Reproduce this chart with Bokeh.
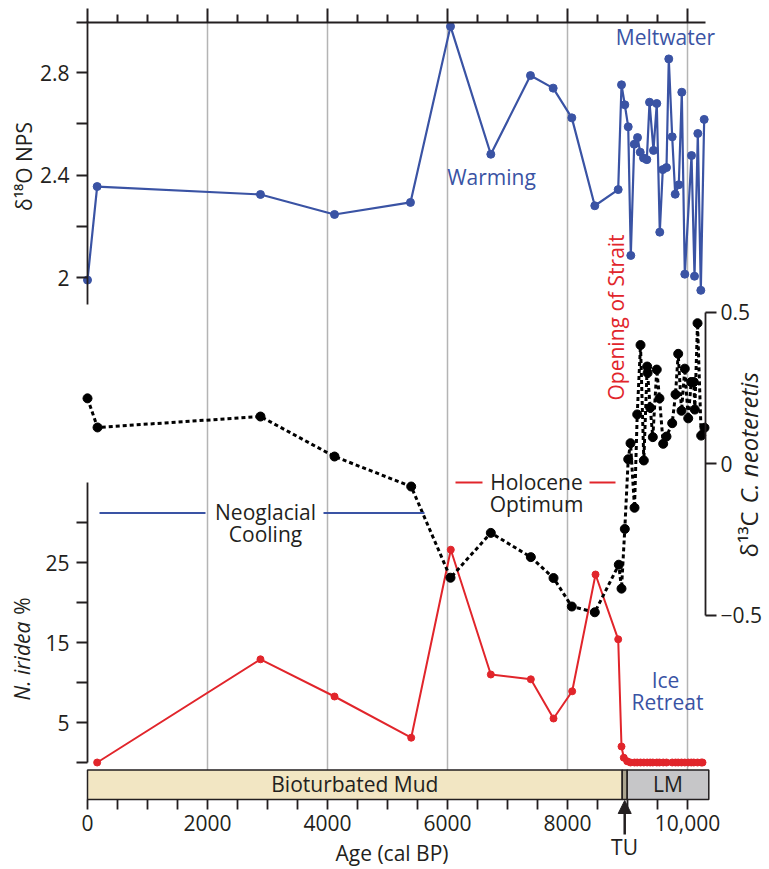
import math
from bokeh.plotting import figure
from bokeh.models import Range1d, LinearAxis, FixedTicker, Label, Arrow, NormalHead
from bokeh.core.properties import value
from bokeh.embed import file_html
from bokeh.resources import INLINE

# ---------------- data ----------------
d18o_age = [0, 161, 2883, 4117, 5383, 6050, 6722, 7383, 7761, 8072,
            8455, 8845, 8900, 8955, 9012, 9055, 9112, 9167, 9212, 9267,
            9322, 9367, 9433, 9488, 9538, 9588, 9650, 9688, 9745, 9795,
            9855, 9905, 9955, 10067, 10117, 10172, 10222, 10278]
d18o = [1.99, 2.355, 2.324, 2.246, 2.293, 2.98, 2.481, 2.788, 2.739, 2.623,
        2.280, 2.343, 2.752, 2.674, 2.588, 2.086, 2.520, 2.546, 2.489, 2.466,
        2.460, 2.684, 2.496, 2.679, 2.177, 2.421, 2.429, 2.853, 2.549, 2.325,
        2.362, 2.723, 2.013, 2.476, 2.005, 2.562, 1.950, 2.617]

d13c_age = [0, 167, 2883, 4117, 5395, 6050, 6722, 7389, 7767, 8072,
            8455, 8855, 8900, 8955, 9012, 9050, 9117, 9162, 9217, 9272,
            9328, 9335, 9378, 9422, 9488, 9533, 9595, 9650, 9745, 9800,
            9845, 9900, 9955, 10012, 10062, 10105, 10122, 10167, 10228, 10283]
d13c = [0.215, 0.119, 0.155, 0.023, -0.076, -0.377, -0.229, -0.309, -0.378, -0.472,
        -0.491, -0.334, -0.413, -0.216, 0.014, 0.067, -0.146, 0.162, 0.391, 0.010,
        0.320, 0.299, 0.184, 0.087, 0.310, 0.215, 0.065, 0.089, 0.133, 0.228,
        0.362, 0.174, 0.313, 0.149, 0.269, 0.269, 0.178, 0.463, 0.092, 0.118]

iridea_age = [161, 2883, 4117, 5395, 6055, 6722, 7389, 7767, 8078, 8467,
              8845, 8900, 8938, 8995, 9050, 9117, 9162, 9217, 9272, 9328,
              9378, 9422, 9488, 9533, 9595, 9650, 9745, 9800, 9845, 9900,
              9955, 10012, 10062, 10105, 10167, 10228, 10250]
iridea = [0.0, 12.9, 8.25, 3.1, 26.6, 11.0, 10.4, 5.5, 8.9, 23.5,
          15.4, 2.0, 0.6, 0.15, 0.0, 0.0, 0.0, 0.0, 0.0, 0.0,
          0.0, 0.0, 0.0, 0.0, 0.0, 0.0, 0.0, 0.0, 0.0, 0.0,
          0.0, 0.0, 0.0, 0.0, 0.0, 0.0, 0.0]

units = ["Bioturbated Mud", "TU", "LM"]
unit_start = [0, 8912, 8995]
unit_end = [8912, 8995, 10355]
unit_colors = ["#f2e6c3", "#aba48f", "#c6c6c8"]

age_ticks = [0, 2000, 4000, 6000, 8000, 10000]
age_tick_labels = ["0", "2000", "4000", "6000", "8000", "10,000"]
age_minor = [500, 1000, 1500, 2500, 3000, 3500, 4500, 5000, 5500,
             6500, 7000, 7500, 8500, 9000, 9500]
grid_ages = [2000, 4000, 6000, 8000, 10000]

d18o_ticks = [2.0, 2.4, 2.8]
d18o_tick_labels = ["2", "2.4", "2.8"]
d18o_minor = [2.2, 2.6]
iridea_ticks = [5, 15, 25]
iridea_tick_labels = ["5", "15", "25"]
iridea_minor = [0, 10, 20, 30]
d13c_ticks = [-0.5, 0, 0.5]
d13c_tick_labels = ["\u22120.5", "0", "0.5"]

# ---------------- layout (page pixels; the frame fills the whole canvas) ----------------
W, H = 769, 869
FL, FR, FT, FB = 0, W, 0, H
X0_PX, PX_PER_YR = 87, 0.06                # age 0 at x=87
BASE_DY = 9 / 21                            # renderer puts alphabetic baseline ~0.43em low
BASE_DX = 11 / 21                           # ... and ~0.52em right for rotated text


def age_at(px):
    return (px - X0_PX) / PX_PER_YR


def yv(py):                                 # default y range: px above canvas bottom
    return FB - py


def make_range(v1, y1, v2, y2):
    s = (v1 - v2) / (y2 - y1)
    return Range1d(v1 + (y1 - FB) * s, v1 + (y1 - FT) * s)


BLUE = "#3a53a4"
RED = "#e1252b"
INK = "#231f20"
GRID = "#b4b4b4"
FONT = "Open Sans"
FS = "21px"

p = figure(width=W, height=H, output_backend="svg", toolbar_location=None,
           x_range=Range1d(age_at(FL), age_at(FR)), y_range=Range1d(0, FB - FT),
           x_axis_type=None, y_axis_type=None, title=None,
           min_border_left=0, min_border_right=0,
           min_border_top=0, min_border_bottom=0,
           outline_line_color=None, background_fill_color="white",
           border_fill_color="white")

p.extra_y_ranges = {
    "d18o": make_range(2.8, 72, 2.0, 277),
    "d13c": make_range(0.5, 311.5, -0.5, 614.5),
    "irid": make_range(30, 522, 0, 762),
}


def style_axis(ax, tick_len=11):
    ax.axis_line_width = 1.8
    ax.axis_line_color = INK
    ax.major_tick_line_width = 1.8
    ax.minor_tick_line_width = 1.8
    ax.major_tick_line_color = INK
    ax.minor_tick_line_color = INK
    ax.major_tick_in = 0
    ax.minor_tick_in = 0
    ax.major_tick_out = tick_len
    ax.minor_tick_out = tick_len
    ax.major_label_text_font = FONT
    ax.major_label_text_font_size = FS
    ax.major_label_text_color = INK


# grid lines (stop at the top axis and at the lithology bar)
top_y = yv(21.5)
bar_top = yv(769.5)
bar_bot = yv(799)
p.segment(x0=grid_ages, x1=grid_ages, y0=bar_top, y1=top_y,
          line_color=GRID, line_width=1.5, level="underlay")

# lithology bar
p.quad(left=unit_start, right=unit_end, bottom=bar_bot, top=bar_top,
       fill_color=unit_colors, line_color=INK, line_width=1.5)
lith_x = [(unit_start[i] + unit_end[i]) / 2 for i in (0, 2)]
p.text(x=lith_x, y=[yv(792 - 9)] * 2, text=[units[0], units[2]],
       text_font=value(FONT), text_font_size=FS, text_align="center",
       text_baseline="alphabetic", text_color=INK)

# N. iridea series
p.line(iridea_age, iridea, y_range_name="irid", line_color=RED, line_width=2)
p.scatter(iridea_age, iridea, y_range_name="irid", size=7, color=RED)

# d13C series
p.line(d13c_age, d13c, y_range_name="d13c", line_color="black", line_width=3,
       line_dash="4 3")
p.scatter(d13c_age, d13c, y_range_name="d13c", size=9, color="black")

# d18O series
p.line(d18o_age, d18o, y_range_name="d18o", line_color=BLUE, line_width=2.2)
p.scatter(d18o_age, d18o, y_range_name="d18o", size=8, color=BLUE)

# period markers
neo_y = 31.2
holo_y = 35.0
p.segment(x0=[age_at(99), age_at(323)], x1=[age_at(205), age_at(424)],
          y0=neo_y, y1=neo_y, y_range_name="irid", line_color=BLUE, line_width=2)
p.segment(x0=[age_at(455), age_at(589)], x1=[age_at(482), age_at(615)],
          y0=holo_y, y1=holo_y, y_range_name="irid", line_color=RED, line_width=2)

# ---------------- axes ----------------
top_ax = LinearAxis(fixed_location=top_y, bounds=(age_at(76), 10300),
                    ticker=FixedTicker(ticks=age_ticks, minor_ticks=age_minor),
                    major_label_overrides={t: "" for t in age_ticks})
style_axis(top_ax)
top_ax.axis_line_width = 2
top_ax.major_tick_line_width = 2
top_ax.minor_tick_line_width = 2
top_ax.major_tick_out = 14
top_ax.minor_tick_out = 8
p.add_layout(top_ax, "above")

bot_ax = LinearAxis(fixed_location=bar_bot, bounds=(0, 10150),
                    ticker=FixedTicker(ticks=age_ticks, minor_ticks=age_minor),
                    major_label_overrides=dict(zip(age_ticks, age_tick_labels)),
                    axis_label="Age (cal BP)")
style_axis(bot_ax, 10)
bot_ax.axis_line_color = None
bot_ax.major_label_standoff = 5
bot_ax.axis_label_text_font = FONT
bot_ax.axis_label_text_font_size = FS
bot_ax.axis_label_text_font_style = "normal"
bot_ax.axis_label_text_color = INK
bot_ax.axis_label_standoff = 5
p.add_layout(bot_ax, "below")

ax18 = LinearAxis(y_range_name="d18o", fixed_location=0, bounds=(1.895, 3.0),
                  ticker=FixedTicker(ticks=d18o_ticks, minor_ticks=d18o_minor),
                  major_label_overrides=dict(zip(d18o_ticks, d18o_tick_labels)))
style_axis(ax18)
ax18.major_label_standoff = 7
p.add_layout(ax18, "left")

axir = LinearAxis(y_range_name="irid", fixed_location=0, bounds=(0, 35),
                  ticker=FixedTicker(ticks=iridea_ticks, minor_ticks=iridea_minor),
                  major_label_overrides=dict(zip(iridea_ticks, iridea_tick_labels)))
style_axis(axir)
axir.major_label_standoff = 7
p.add_layout(axir, "left")

ax13 = LinearAxis(y_range_name="d13c", fixed_location=10300, bounds=(-0.5, 0.5),
                  ticker=FixedTicker(ticks=d13c_ticks, minor_ticks=[]),
                  major_label_overrides=dict(zip(d13c_ticks, d13c_tick_labels)))
style_axis(ax13)
ax13.major_label_standoff = 4
p.add_layout(ax13, "right")


# ---------------- texts ----------------
def lab(text, px, py, color=INK, align="center", angle=0.0, style="normal", fs=21):
    if angle:
        px -= BASE_DX * fs
    else:
        py -= BASE_DY * fs
    p.add_layout(Label(x=age_at(px), y=yv(py), text=text, text_color=color,
                       text_font=FONT, text_font_size=f"{fs}px", text_font_style=style,
                       text_align=align, text_baseline="alphabetic", angle=angle))


lab("\u03b4\u00b9\u2078O NPS", 34, 166, angle=math.pi / 2)
lab("N. iridea", 32, 700, align="left", angle=math.pi / 2, style="italic")
lab("%", 32, 597, align="right", angle=math.pi / 2)
lab("\u03b4\u00b9\u00b3C", 761, 557, align="left", angle=math.pi / 2, fs=24)
lab("C. neoteretis", 761, 503, align="left", angle=math.pi / 2, style="italic", fs=24)

lab("Meltwater", 665, 45, BLUE)
lab("Warming", 491, 185, BLUE)
lab("Opening of Strait", 626, 400, RED, align="left", angle=math.pi / 2)
lab("Neoglacial", 265, 520)
lab("Cooling", 265, 542)
lab("Holocene", 536, 490)
lab("Optimum", 536, 512)
lab("Ice", 665, 688, BLUE)
lab("Retreat", 667, 710, BLUE)

tu_age = (unit_start[1] + unit_end[1]) / 2
p.add_layout(Arrow(end=NormalHead(size=13, fill_color=INK, line_color=INK),
                   x_start=tu_age, y_start=yv(834), x_end=tu_age, y_end=yv(800),
                   line_color=INK, line_width=2.5))
lab(units[1], 624, 855)

open("out.html", "w").write(file_html(p, INLINE))
